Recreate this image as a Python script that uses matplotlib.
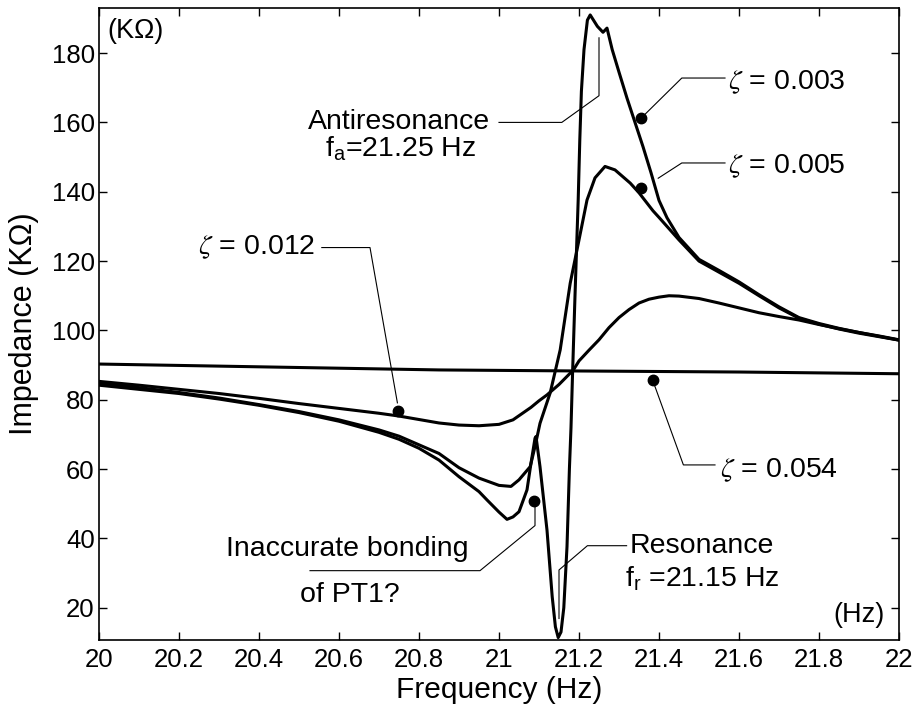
import matplotlib
matplotlib.use('Agg')
import matplotlib.pyplot as plt
from matplotlib.ticker import FormatStrFormatter, MultipleLocator

plt.rcParams['font.family'] = 'Liberation Sans'
plt.rcParams['mathtext.fontset'] = 'custom'
plt.rcParams['mathtext.rm'] = 'Liberation Sans'
plt.rcParams['mathtext.it'] = 'Liberation Sans:italic'
plt.rcParams['mathtext.sf'] = 'Liberation Sans'

# impedance vs frequency, one curve per damping ratio
freq_054 = [20.0, 20.4, 20.85, 21.2, 21.6, 22.0]
imp_054 = [90.3, 89.5, 88.6, 88.3, 88.0, 87.5]

freq_012 = [20.0, 20.1, 20.2, 20.3, 20.4, 20.5, 20.6, 20.7, 20.75, 20.8, 20.85,
            20.9, 20.95, 21.0, 21.035, 21.05, 21.08, 21.1, 21.12, 21.15, 21.186,
            21.2, 21.225, 21.25, 21.275, 21.3, 21.325, 21.35, 21.375, 21.4,
            21.425, 21.45, 21.5, 21.55, 21.6, 21.65, 21.7, 21.75, 21.8, 21.85,
            21.9, 21.95, 22.0]
imp_012 = [85.3, 84.2, 83.0, 81.8, 80.4, 78.9, 77.5, 76.1, 75.3, 74.3, 73.3,
           72.7, 72.5, 72.9, 74.2, 75.4, 77.8, 79.7, 81.4, 84.4, 88.6,
           91.2, 94.3, 97.3, 100.8, 103.7, 106.0, 107.9, 109.0, 109.6,
           110.0, 109.9, 109.2, 107.9, 106.5, 105.1, 104.0, 103.0, 101.7, 100.5,
           99.4, 98.3, 97.2]

freq_005 = [20.0, 20.1, 20.2, 20.3, 20.4, 20.5, 20.6, 20.7, 20.75, 20.8, 20.85,
            20.9, 20.95, 21.0, 21.03, 21.05, 21.078, 21.09, 21.1025, 21.128,
            21.153, 21.178, 21.2, 21.22, 21.24, 21.265, 21.29, 21.328, 21.35,
            21.385, 21.4, 21.45, 21.5, 21.55, 21.6, 21.65, 21.7, 21.75, 21.8,
            21.85, 21.9, 21.95, 22.0]
imp_005 = [84.8, 83.5, 82.1, 80.5, 78.6, 76.6, 74.2, 71.3, 69.5, 67.0, 64.5,
           60.4, 57.4, 55.3, 55.0, 56.9, 60.7, 66.5, 73.2, 82.0,
           94.4, 113.6, 126.1, 137.6, 144.0, 147.3, 146.3, 142.5, 139.7,
           134.5, 132.6, 126.1, 120.0, 116.8, 113.6, 110.0, 106.5, 103.5, 101.8,
           100.4, 99.2, 98.2, 97.2]

freq_003 = [20.0, 20.1, 20.2, 20.3, 20.4, 20.5, 20.6, 20.7, 20.75, 20.8, 20.85,
            20.9, 20.95, 20.97, 21.0, 21.02, 21.035, 21.05, 21.07, 21.08, 21.09,
            21.0925, 21.1025, 21.12, 21.133, 21.141, 21.148, 21.155, 21.162,
            21.17, 21.176, 21.18, 21.184, 21.19, 21.198, 21.202, 21.206, 21.2125,
            21.221, 21.228, 21.246, 21.26, 21.27, 21.283, 21.3, 21.32, 21.34,
            21.36, 21.38, 21.4, 21.42, 21.45, 21.5, 21.55, 21.6, 21.65, 21.7,
            21.75, 21.8, 21.85, 21.9, 21.95, 22.0]
imp_003 = [84.2, 83.0, 81.8, 80.2, 78.4, 76.3, 73.8, 70.6, 68.6, 66.0, 62.6,
           57.8, 53.5, 51.1, 47.6, 45.5, 46.2, 47.7, 54.0, 61.7, 68.9,
           69.4, 60.7, 42.4, 23.2, 14.5, 11.4, 13.0, 20.0,
           37.6, 60.0, 72.0, 88.0, 110.0, 137.7, 155.0, 169.0, 181.0,
           189.5, 191.0, 187.7, 186.0, 187.2, 181.0, 174.5, 167.0, 160.0,
           153.0, 145.5, 137.5, 132.5, 126.8, 120.5, 117.3, 114.0, 110.3, 106.8,
           103.7, 102.0, 100.6, 99.4, 98.4, 97.3]

fig = plt.figure(figsize=(9.15, 7.11), dpi=100)
ax = fig.add_axes([99 / 915, 1 - 640 / 711, 800 / 915, 632 / 711])

for f, z in [(freq_054, imp_054), (freq_012, imp_012),
             (freq_005, imp_005), (freq_003, imp_003)]:
    ax.plot(f, z, color='black', lw=2.2, solid_joinstyle='round')

ax.set_xlim(20, 22)
ax.set_ylim(10.7, 193)
ax.xaxis.set_major_locator(MultipleLocator(0.2))
ax.xaxis.set_major_formatter(FormatStrFormatter('%g'))
ax.set_yticks([20, 40, 60, 80, 100, 120, 140, 160, 180])
ax.tick_params(direction='in', top=True, right=True, length=6, width=1,
               labelsize=18.5)
ax.tick_params(axis='x', pad=6)
ax.tick_params(axis='y', pad=3)
for s in ax.spines.values():
    s.set_linewidth(1.2)

ax.set_xlabel('Frequency (Hz)', fontsize=21.5, labelpad=3)
ax.set_ylabel('Impedance (KΩ)', fontsize=22, labelpad=9)

ax.text(0.01, 0.964, '(KΩ)', transform=ax.transAxes, fontsize=19.5,
        ha='left', va='center')
ax.text(0.9825, 0.04, '(Hz)', transform=ax.transAxes, fontsize=19.5,
        ha='right', va='center')

lead = dict(color='black', lw=0.8)
dot = dict(marker='o', color='black', ms=7.5, ls='none')
afs = 20.5

# antiresonance
ax.plot([21.0, 21.157, 21.25, 21.25], [160, 160, 167.7, 184.4], **lead)
ax.text(20.75, 160, 'Antiresonance', fontsize=afs, ha='center', va='center')
ax.text(20.755, 152.5, 'f$_\\mathrm{a}$=21.25 Hz', fontsize=afs,
        ha='center', va='center')

# resonance
ax.plot([21.319, 21.221, 21.15, 21.15], [37.9, 37.9, 30.9, 16.9], **lead)
ax.text(21.5075, 37.8, 'Resonance', fontsize=afs, ha='center', va='center')
ax.text(21.5075, 28.3, 'f$_\\mathrm{r}$ =21.15 Hz', fontsize=afs,
        ha='center', va='center')

# bonding defect
ax.plot([21.0875], [50.9], **dot)
ax.plot([20.5275, 20.9525, 21.09, 21.09], [30.7, 30.7, 43.7, 49.6], **lead)
ax.text(20.621, 36.9, 'Inaccurate bonding', fontsize=afs,
        ha='center', va='center')
ax.text(20.628, 23.7, 'of PT1?', fontsize=afs, ha='center', va='center')

# damping ratio labels
ax.plot([21.355], [161.2], **dot)
ax.plot([21.355, 21.457, 21.565], [161.2, 172.8, 172.8], **lead)
ax.text(21.572, 171.7, '$\\zeta$ = 0.003', fontsize=afs, ha='left',
        va='center', math_fontfamily='stix')

ax.plot([21.355], [141.2], **dot)
ax.plot([21.398, 21.457, 21.565], [143.9, 148.3, 148.3], **lead)
ax.text(21.572, 147.3, '$\\zeta$ = 0.005', fontsize=afs, ha='left',
        va='center', math_fontfamily='stix')

ax.plot([20.7475], [76.8], **dot)
ax.plot([20.557, 20.6775, 20.746], [123.9, 123.9, 79.1], **lead)
ax.text(20.54, 123.9, '$\\zeta$ = 0.012', fontsize=afs, ha='right',
        va='center', math_fontfamily='stix')

ax.plot([21.384], [85.7], **dot)
ax.plot([21.384, 21.461, 21.54], [85.7, 61.2, 61.2], **lead)
ax.text(21.5525, 59.7, '$\\zeta$ = 0.054', fontsize=afs, ha='left',
        va='center', math_fontfamily='stix')

fig.savefig('out.png', dpi=100)
